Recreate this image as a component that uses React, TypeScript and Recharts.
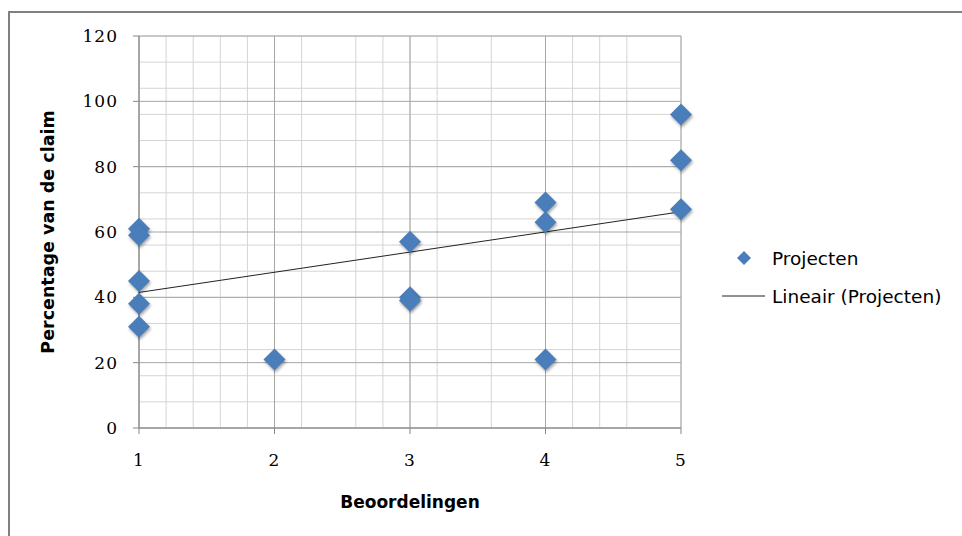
import React from 'react'
import {
  ScatterChart,
  Scatter,
  XAxis,
  YAxis,
  CartesianGrid,
} from 'recharts'

// Beoordelingen (x) vs percentage van de claim (y)
const ratings = [1, 1, 1, 1, 1, 2, 3, 3, 3, 4, 4, 4, 5, 5, 5]
const percentages = [61, 59, 45, 38, 31, 21, 57, 40, 39, 69, 63, 21, 96, 82, 67]

// linear trendline endpoints
const trendX = [1, 5]
const trendY = [41.5, 66.2]

const xTicks = [1, 2, 3, 4, 5]
const yTicks = [0, 20, 40, 60, 80, 100, 120]
const xMinor = Array.from({ length: 21 }, (_, i) => 1 + i * 0.2)
const yMinor = Array.from({ length: 31 }, (_, i) => i * 4)

const points = ratings.map((x, i) => ({ x, y: percentages[i] }))
const trend = trendX.map((x, i) => ({ x, y: trendY[i] }))

const BLUE = '#4a7ebb'
const AXIS = '#868686'
const SANS = '"DejaVu Sans", sans-serif'
const SERIF = '"DejaVu Serif", serif'

const Diamond = (props: any) => {
  const { cx, cy } = props
  if (cx == null || cy == null) return null
  const r = 11
  return (
    <polygon
      points={`${cx},${cy - r} ${cx + r},${cy} ${cx},${cy + r} ${cx - r},${cy}`}
      fill={BLUE}
      style={{ filter: 'drop-shadow(1px 2px 1.5px rgba(0,0,0,0.35))' }}
    />
  )
}

const NoDot = () => null

// legend drawn next to the plot, like the Excel one
const LegendBox = () => (
  <div
    style={{
      position: 'absolute',
      left: 715,
      top: 245,
      fontFamily: SANS,
      fontSize: 18.5,
      color: '#000',
    }}
  >
    <div style={{ display: 'flex', alignItems: 'center', height: 26 }}>
      <svg width={57} height={26}>
        <polygon points="29,6 36,13 29,20 22,13" fill={BLUE} />
      </svg>
      <span>Projecten</span>
    </div>
    <div style={{ display: 'flex', alignItems: 'center', height: 26, marginTop: 12 }}>
      <svg width={57} height={26}>
        <line x1={7} y1={13} x2={50} y2={13} stroke="#222" strokeWidth={1} />
      </svg>
      <span>Lineair (Projecten)</span>
    </div>
  </div>
)

export default function App() {
  return (
    <div
      style={{
        position: 'absolute',
        left: 0,
        top: 0,
        width: 962,
        height: 536,
        overflow: 'hidden',
        background: '#fff',
      }}
    >
      <div
        style={{
          position: 'absolute',
          left: 8,
          top: 11,
          width: 1000,
          height: 600,
          borderLeft: '2px solid #808080',
          borderTop: '2px solid #808080',
        }}
      />
      <div style={{ position: 'absolute', left: 0, top: 0 }}>
        <ScatterChart
          width={962}
          height={536}
          margin={{ top: 36, right: 281, left: 0, bottom: 24 }}
        >
          <CartesianGrid
            verticalValues={xMinor}
            horizontalValues={yMinor}
            stroke="#d4d4d4"
            strokeWidth={1}
            fill="none"
          />
          <CartesianGrid
            verticalValues={xTicks}
            horizontalValues={yTicks}
            stroke="#a6a6a6"
            strokeWidth={1}
            fill="none"
          />
          <XAxis
            type="number"
            dataKey="x"
            domain={[1, 5]}
            ticks={xTicks}
            height={84}
            axisLine={{ stroke: AXIS }}
            tickLine={{ stroke: AXIS }}
            tickSize={6}
            tickMargin={20}
            tick={{ fill: '#000', fontSize: 17, fontFamily: SERIF, letterSpacing: 1 }}
            label={{
              value: 'Beoordelingen',
              position: 'insideBottom',
              offset: 4,
              style: {
                fill: '#000',
                fontSize: 17,
                fontWeight: 'bold',
                fontFamily: SANS,
              },
            }}
          />
          <YAxis
            type="number"
            dataKey="y"
            domain={[0, 120]}
            ticks={yTicks}
            width={139}
            axisLine={{ stroke: AXIS }}
            tickLine={{ stroke: AXIS }}
            tickSize={6}
            tickMargin={15}
            tick={{ fill: '#000', fontSize: 17, fontFamily: SERIF, letterSpacing: 1 }}
            label={{
              value: 'Percentage van de claim',
              angle: -90,
              position: 'insideLeft',
              offset: 48,
              style: {
                textAnchor: 'middle',
                fill: '#000',
                fontSize: 17.5,
                fontWeight: 'bold',
                fontFamily: SANS,
              },
            }}
          />
          <Scatter
            name="Lineair (Projecten)"
            data={trend}
            line={{ stroke: '#222', strokeWidth: 1 }}
            lineType="joint"
            shape={<NoDot />}
            isAnimationActive={false}
          />
          <Scatter
            name="Projecten"
            data={points}
            shape={<Diamond />}
            isAnimationActive={false}
          />
        </ScatterChart>
      </div>
      <LegendBox />
    </div>
  )
}
